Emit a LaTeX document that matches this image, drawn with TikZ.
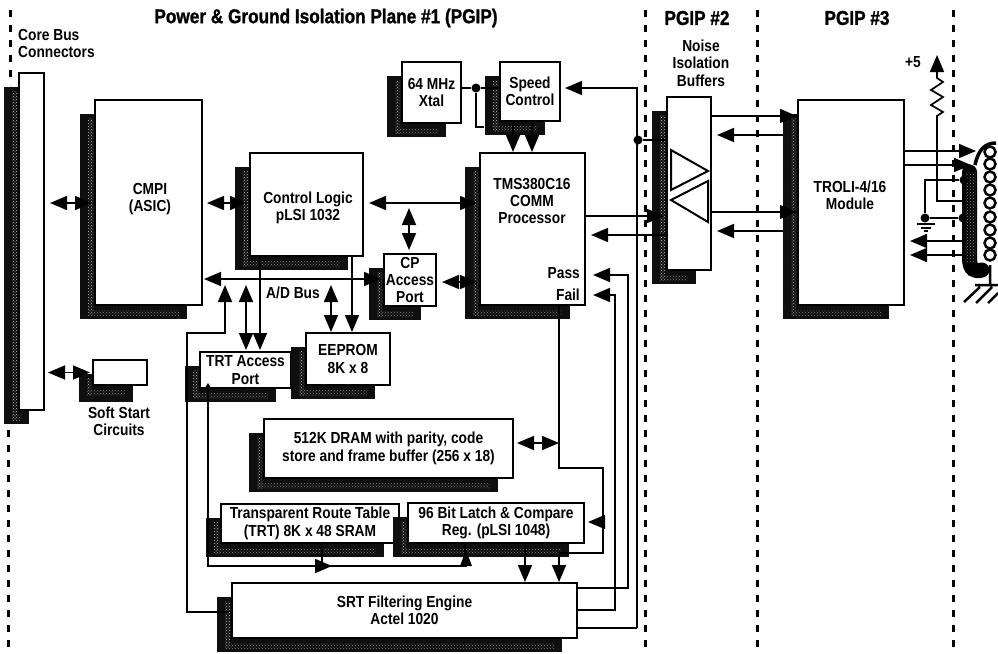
\documentclass[tikz,border=0pt]{standalone}
\usepackage{fontspec}
\setmainfont{Liberation Sans}[FakeStretch=0.86]
\newfontfamily\ttlfont{Liberation Sans Bold}[FakeBold=1.2,FakeStretch=0.86]
\usetikzlibrary{arrows.meta,patterns,calc}
\newcommand{\fs}{\fontsize{16}{17.3}\selectfont\bfseries}
\tikzset{
 box/.style={draw=black,line width=2pt,fill=white,inner sep=0pt,align=center,font=\fs,text=black},
 lbl/.style={inner sep=0pt,align=center,font=\fs},
 ttl/.style={inner sep=0pt,font=\fontsize{20}{22}\ttlfont},
 wire/.style={line width=1.7pt,draw=black},
 one/.style={wire,-{Triangle[length=17pt,width=14pt]}},
 two/.style={wire,{Triangle[length=17pt,width=14pt]}-{Triangle[length=17pt,width=14pt]}},
 rev/.style={wire,{Triangle[length=17pt,width=14pt]}-},
 plane/.style={line width=3pt,dash pattern=on 7pt off 8pt},
 dot/.style={circle,fill=black,inner sep=0pt,minimum size=9pt},
}
\newcommand{\blk}[7][15]{%
 \fill[black!94] ({#3-#1},{#4+14}) rectangle ({#5-#1},{#6+14});
 \fill[pattern=crosshatch dots,pattern color=black!25] ({#3-#1+8},{#4+18}) rectangle ({#3-2},{#6+10});
 \fill[pattern=crosshatch dots,pattern color=black!50] ({#3-#1+8},{#6+5}) rectangle ({#5-#1-8},{#6+10});
 \node[box,minimum width={#5-#3},minimum height={#6-#4}] (#2) at ({(#3+#5)/2},{(#4+#6)/2}) {#7};}
\begin{document}
\begin{tikzpicture}[x=1pt,y=-1pt]
\useasboundingbox (0,0) rectangle (998,653);
% isolation planes
\coordinate (pa1) at (10,10); \coordinate (pa2) at (10,85);
\coordinate (pa3) at (8,430); \coordinate (pa4) at (8,650);
\coordinate (pb1) at (645,10); \coordinate (pb2) at (645,653);
\coordinate (pc1) at (757,10); \coordinate (pc2) at (757,653);
\coordinate (pd1) at (953,10); \coordinate (pd2) at (953,653);
\draw[plane] (pa1)--(pa2) (pa3)--(pa4) (pb1)--(pb2) (pc1)--(pc2) (pd1)--(pd2);
% titles
\node[ttl] (t1) at (326,18) {Power \& Ground Isolation Plane \#1 (PGIP)};
\node[ttl] (t2) at (697,18) {PGIP \#2};
\node[ttl] (t3) at (857,18) {PGIP \#3};
\node[lbl,align=left,anchor=north west] (t4) at (18,29) {Core Bus\\Connectors};
\node[lbl] (t5) at (701,63) {Noise\\Isolation\\Buffers};
\node[lbl] (t6) at (119,421) {Soft Start\\Circuits};
\node[lbl] (t7) at (293,293) {A/D Bus};
\node[lbl] (t8) at (913,62) {+5};
% blocks
\blk{core}{19}{73}{44}{410}{}
\blk{cmpi}{95}{100}{202}{305}{}
\blk{ctl}{250}{153}{363}{256}{}
\blk{tms}{480}{153}{585}{305}{}
\blk{cp}{384}{254}{436}{306}{CP\\Access\\Port}
\blk{xtal}{402}{62}{461}{123}{64 MHz\\Xtal}
\blk{spd}{500}{62}{560}{121}{Speed\\Control}
\blk{buf}{667}{97}{711}{270}{}
\blk{trol}{798}{100}{904}{305}{}
\fill[black!94] (79,385) rectangle (133,402);
\blk[14]{soft}{93}{360}{147}{385}{}
\blk{trta}{200}{352}{291}{388}{TRT Access\\Port}
\blk{eep}{306}{333}{390}{385}{EEPROM\\8K x 8}
\blk{dram}{264}{419}{513}{478}{512K DRAM with parity, code\\store and frame buffer (256 x 18)}
\blk{trt}{221}{504}{399}{543}{Transparent Route Table\\(TRT) 8K x 48 SRAM}
\blk{lat}{408}{503}{584}{543}{96 Bit Latch \& Compare\\Reg. (pLSI 1048)}
\blk{srt}{232}{583}{577}{638}{SRT Filtering Engine\\Actel 1020}
\node[lbl] (cmpit) at (150,199) {CMPI\\(ASIC)};
\node[lbl] (ctlt) at (308,208) {Control Logic\\pLSI 1032};
\node[lbl] (trolt) at (850,195) {TROLI-4/16\\Module};
\node[lbl] (tmst) at (532,201) {TMS380C16\\COMM\\Processor};
\node[lbl,anchor=east] (pass) at (580,273) {Pass};
\node[lbl,anchor=east] (fail) at (580,295) {Fail};
% buffer triangles
\draw[line width=2pt,fill=white] (671,150)--(671,190)--(708,171)--cycle;
\draw[line width=2pt,fill=white] (708,181)--(708,222)--(671,200)--cycle;
% horizontal links
\draw[two] ($(core.east|-0,203)+(5,0)$) -- ($(cmpi.west|-0,203)+(-2,0)$);
\draw[two] ($(cmpi.east|-0,203)+(4,0)$) -- ($(ctl.west|-0,203)+(-2,0)$);
\draw[two] ($(ctl.east|-0,203)+(5,0)$) -- ($(tms.west|-0,203)+(-2,0)$);
\draw[two] ($(cp.east|-0,282)+(5,0)$) -- ($(tms.west|-0,282)+(-2,0)$);
\draw[two] ($(cmpi.east|-0,279)+(1,0)$) -- ($(cp.west|-0,279)+(-2,0)$);
\draw[two] ($(soft.west)+(-44,0)$) -- ($(soft.west)+(-2,0)$);
\draw[two] (409,208) -- (409,250);
% A/D bus drops
\coordinate (j1) at (187,333);
\draw[rev] (225,285) -- (225,333) -- (j1) -- (187,612) -- ($(srt.west|-0,612)+(-2,0)$);
\draw[two] (246,285) -- (246,350);
\draw[one] (260,256) -- (260,350);
\draw[two] (331,285) -- (331,332);
\draw[one] (352,256) -- (352,332);
% speed / xtal
\node[dot] (dj) at (476,88) {};
\draw[wire] (xtal.east|-dj) -- (dj);
\draw[wire] (dj) -- (spd.west|-dj);
\draw[wire] (dj) -- (476,127) -- (484,127);
\draw[one] (513,121) -- (513,152);
\draw[one] (532,121) -- (532,152);
% TMS / buffers
\node[dot] (db) at (638,140) {};
\draw[one] (637,628) -- (637,88) -- ($(spd.east|-0,88)+(4,0)$);
\draw[wire] (srt.east|-0,628) -- (637,628);
\draw[wire] (db) -- (buf.west|-db);
\draw[one] (tms.east|-0,216) -- (664,216);
\draw[rev] ($(tms.east|-0,235)+(5,0)$) -- (buf.west|-0,235);
\draw[one] (buf.east|-0,116) -- (trol.west|-0,116);
\draw[rev] ($(buf.east|-0,135)+(5,0)$) -- (783,135);
\draw[one] (buf.east|-0,212) -- (trol.west|-0,212);
\draw[rev] ($(buf.east|-0,231)+(5,0)$) -- (783,231);
% pass fail
\draw[one] (srt.east|-0,588) -- (628,588) -- (628,275) -- ($(tms.east|-0,275)+(7,0)$);
\draw[one] (srt.east|-0,610) -- (615,610) -- (615,295) -- ($(tms.east|-0,295)+(7,0)$);
% lower bus
\coordinate (dk) at (559,468);
\draw[wire] (tms.south-|dk) -- (dk) -- (603,468) -- (603,553) -- (559,553);
\draw[one] (559,553) -- (559,582);
\draw[two] ($(dram.east|-0,443)+(3,0)$) -- (559,443);
\draw[rev] ($(lat.east|-0,522)+(3,0)$) -- (603,522);
\draw[one] (525,543) -- (525,582);
% TRT
\draw[wire,{Triangle[length=6pt,width=7pt]}-] (208,383) -- (208,566) -- (467,566);
\draw[one] (318,566) -- (332,566);
\draw[wire] (322,543) -- (322,566);
\draw[wire] (465,543) -- (465,560);
\fill (460,566) -- (466,550) -- (472,566) -- cycle;
% TROLI right side
\draw[line width=15pt,line cap=round] (969.5,172) -- (969.5,258) .. controls (969.5,270) and (975,272) .. (982,270);
\fill[pattern=crosshatch dots,pattern color=black!45] (966,172) rectangle (976,262);
\draw[line width=3.5pt] (975,165) .. controls (978,150) and (985,143) .. (996,143);
\draw[line width=2.5pt] (990,265) -- (990,285) (975,285) -- (998,285)
 (964,302) -- (980,287) (976,303) -- (992,287) (988,303) -- (998,293);
\foreach \n/\yy in {1/152,2/164,3/177,4/190,5/203,6/217,7/230,8/243,9/255}{
 \node[circle,draw,line width=2.5pt,fill=white,minimum size=11pt,inner sep=0pt] (c\n) at (990,\yy) {};}
\draw[one] (trol.east|-0,151) -- (976,151);
\draw[one] (trol.east|-0,165) -- (971,165);
\draw[rev] (910,241) -- (965,241);
\draw[rev] (910,255) -- (965,255);
\node[dot] (g1) at (925,218) {};
\node[dot] (g2) at (964,180) {};
\node[dot] (g3) at (963,218) {};
\draw[wire] (g2) -- (925,180) -- (g1) -- (g3);
\draw[line width=1.5pt] (917,224) -- (935,224) (921,228) -- (931,228) (924,231) -- (928,231);
\draw[rev] (937,55) -- (937,78) -- (943,82) -- (931,90) -- (943,97) -- (931,105) -- (943,112) -- (937,116) -- (937,201) -- (964,201);
\end{tikzpicture}
\end{document}
